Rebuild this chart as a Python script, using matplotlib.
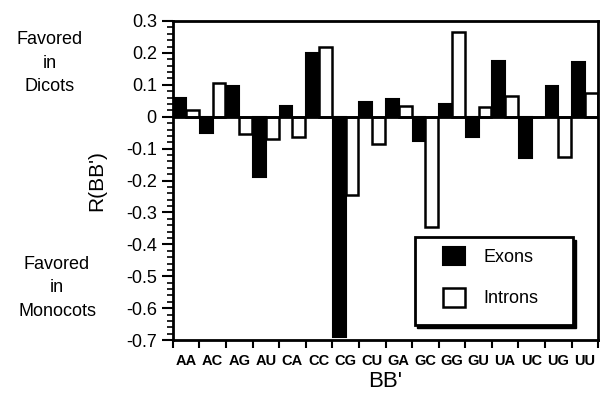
import matplotlib.pyplot as plt
import numpy as np
from matplotlib.patches import Rectangle
from matplotlib.ticker import MultipleLocator

pairs = ["AA", "AC", "AG", "AU", "CA", "CC", "CG", "CU",
         "GA", "GC", "GG", "GU", "UA", "UC", "UG", "UU"]
exons = [0.06, -0.05, 0.095, -0.19, 0.035, 0.20, -0.69, 0.045,
         0.055, -0.075, 0.04, -0.065, 0.175, -0.13, 0.095, 0.17]
introns = [0.02, 0.105, -0.055, -0.07, -0.065, 0.22, -0.245, -0.085,
           0.035, -0.345, 0.265, 0.03, 0.065, 0.0, -0.125, 0.075]

plt.rcParams["font.family"] = ["Liberation Sans", "DejaVu Sans"]

fig = plt.figure(figsize=(6, 3.96), dpi=100)
ax = fig.add_axes([0.288, 0.141, 0.709, 0.806])

x = np.arange(len(pairs))
w = 0.48
ax.bar(x - w / 2, exons, width=w, color="black", edgecolor="black", linewidth=1.5, label="Exons")
ax.bar(x + w / 2, introns, width=w, color="white", edgecolor="black", linewidth=1.8, label="Introns")
ax.axhline(0, color="black", linewidth=2)

ax.set_xlim(-0.5, len(pairs) - 0.5)
ax.set_ylim(-0.7, 0.3)
ax.set_xticks(x)
ax.set_xticklabels(pairs, fontsize=10.5, fontweight="bold")
ax.set_xticks(np.arange(len(pairs) + 1) - 0.5, minor=True)
ax.tick_params(axis="x", which="major", length=0, pad=10)
ax.tick_params(axis="x", which="minor", length=6, width=1.5)
ax.yaxis.set_major_locator(MultipleLocator(0.1))
ax.yaxis.set_minor_locator(MultipleLocator(0.02))
ax.set_yticks(np.arange(-0.7, 0.31, 0.1))
ax.set_yticklabels(["-0.7", "-0.6", "-0.5", "-0.4", "-0.3", "-0.2", "-0.1", "0", "0.1", "0.2", "0.3"],
                   fontsize=13)
ax.tick_params(axis="y", which="major", length=8, width=1.5)
ax.tick_params(axis="y", which="minor", length=4, width=1.2)
for s in ax.spines.values():
    s.set_linewidth(2)

ax.set_ylabel("R(BB')", fontsize=15, labelpad=14)
ax.set_xlabel("BB'", fontsize=16, labelpad=2)

fig.text(0.083, 0.84, "Favored\nin\nDicots", ha="center", va="center", fontsize=13, linespacing=1.5)
fig.text(0.095, 0.273, "Favored\nin\nMonocots", ha="center", va="center", fontsize=13, linespacing=1.5)

# legend frame with drop shadow
ax.add_patch(Rectangle((0.575, 0.038), 0.372, 0.276, transform=ax.transAxes,
                       facecolor="black", edgecolor="black", zorder=4))
ax.add_patch(Rectangle((0.569, 0.047), 0.372, 0.276, transform=ax.transAxes,
                       facecolor="white", edgecolor="black", linewidth=2, zorder=5))
leg = ax.legend(loc="upper left", bbox_to_anchor=(0.635, 0.293), fontsize=13, frameon=False,
                handlelength=1.22, handleheight=1.22, labelspacing=1.2, borderpad=0,
                handletextpad=1.0, borderaxespad=0)
leg.set_zorder(6)

fig.savefig("out.png", dpi=100)
